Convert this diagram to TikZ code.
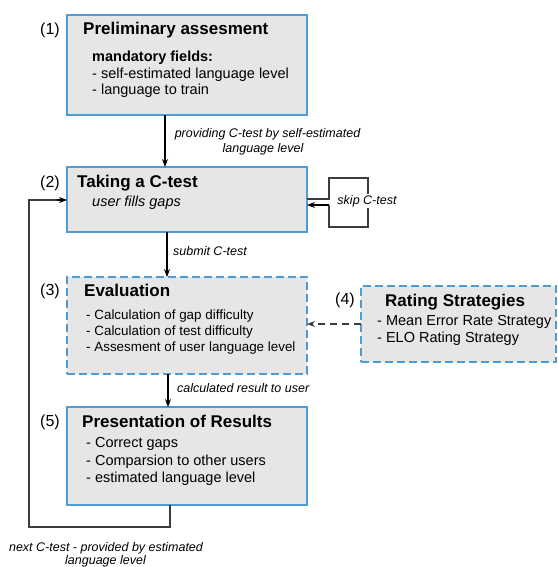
\documentclass[tikz,border=0pt]{standalone}
\usepackage{fontspec}
\setmainfont{Liberation Sans}
\usetikzlibrary{arrows.meta}
\definecolor{boxfill}{RGB}{230,230,230}
\definecolor{boxline}{RGB}{78,156,210}
\definecolor{connc}{RGB}{60,60,60}
\newcommand\mytitle{\fontsize{17}{20}\selectfont\bfseries}
\newcommand\mybody{\fontsize{14.5}{16.5}\selectfont}
\newcommand\mysmall{\fontsize{13.4}{16}\selectfont}
\newcommand\mylab{\fontsize{12.5}{14}\selectfont\itshape}
\newcommand\mynum{\fontsize{16}{18}\selectfont}
\begin{document}
\begin{tikzpicture}[x=1pt,y=-1pt,
  box/.style={draw=boxline, fill=boxfill, line width=1.2pt, outer sep=0pt, inner sep=0pt},
  dbox/.style={box, dash pattern=on 8pt off 4pt},
  txt/.style={inner sep=0pt, anchor=base west, text=black},
  ctxt/.style={inner sep=0pt, anchor=base, text=black},
  arr/.style={draw=black, line width=1.1pt, -{Stealth[length=8pt,width=6pt]}},
  ln/.style={draw=connc, line width=1.1pt}]
\useasboundingbox (0,0) rectangle (557,567);

% boxes
\node[box, minimum width=240pt, minimum height=100pt] (b1) at (187,65) {};
\node[box, minimum width=240pt, minimum height=65pt] (b2) at (187,199.5) {};
\node[dbox, minimum width=240pt, minimum height=97pt] (b3) at (187,325.5) {};
\node[dbox, minimum width=195pt, minimum height=76pt] (b4) at (458.5,324) {};
\node[box, minimum width=240pt, minimum height=98pt] (b5) at (187,456) {};

% numbers
\node[txt] (n1) at (40,34.3) {\mynum (1)};
\node[txt] (n2) at (40,187.3) {\mynum (2)};
\node[txt] (n3) at (40,295.3) {\mynum (3)};
\node[txt] (n4) at (335,304.3) {\mynum (4)};
\node[txt] (n5) at (40,426.3) {\mynum (5)};

% box 1
\node[txt] (t1) at (83,34.6) {\mytitle Preliminary assesment};
\node[txt] (t1a) at (92,61.8) {\mybody\bfseries mandatory fields:};
\node[txt] (t1b) at (92,78.8) {\mybody - self-estimated language level};
\node[txt] (t1c) at (92,94.8) {\mybody - language to train};

% box 2
\node[txt] (t2) at (77,187.6) {\mytitle Taking a C-test};
\node[txt] (t2a) at (92,206.8) {\mybody\itshape user fills gaps};

% box 3
\node[txt] (t3) at (84,296.6) {\mytitle Evaluation};
\node[txt] (t3a) at (86,319.4) {\mysmall - Calculation of gap difficulty};
\node[txt] (t3b) at (86,335.4) {\mysmall - Calculation of test difficulty};
\node[txt] (t3c) at (86,351.4) {\mysmall - Assesment of user language level};

% box 4
\node[txt] (t4) at (385,306.6) {\mytitle Rating Strategies};
\node[txt] (t4a) at (377,325.8) {\mybody - Mean Error Rate Strategy};
\node[txt] (t4b) at (377,342.8) {\mybody - ELO Rating Strategy};

% box 5
\node[txt] (t5) at (82,427.6) {\mytitle Presentation of Results};
\node[txt] (t5a) at (86,447.8) {\mybody - Correct gaps};
\node[txt] (t5b) at (86,465.8) {\mybody - Comparsion to other users};
\node[txt] (t5c) at (86,482.8) {\mybody - estimated language level};

% vertical connectors
\draw[arr] ([xshift=-22pt]b1.south) -- ([xshift=-22pt]b2.north);
\draw[arr] ([xshift=-20pt]b2.south) -- ([xshift=-20pt]b3.north);
\draw[arr] ([xshift=-19pt]b3.south) -- ([xshift=-19pt]b5.north);

\node[ctxt] (l1a) at (267.5,137) {\mylab providing C-test by self-estimated};
\node[ctxt] (l1b) at (263,152) {\mylab language level};
\node[txt] (l2) at (173,255) {\mylab submit C-test};
\node[txt] (l3) at (177,392) {\mylab calculated result to user};

% skip loop
\coordinate (sk0) at (329,199);
\coordinate (s1) at (329,178);
\coordinate (s2) at (368,178);
\coordinate (s3) at (368,227);
\coordinate (s4) at (329,227);
\coordinate (sk5) at (329,205);
\draw[ln] (b2.east |- sk0) -- (sk0) -- (s1) -- (s2) -- (s3) -- (s4) -- (sk5);
\draw[arr] (sk5) -- (b2.east |- sk5);
\node[fill=white, inner sep=1.5pt, text=black] (lsk) at (367,201) {\mylab skip C-test};

% rating -> evaluation
\draw[draw=connc, line width=1.2pt, dash pattern=on 7pt off 5pt, -{Stealth[length=8pt,width=6pt]}] (b4.west) -- (b3.east |- b4.west);

% feedback loop
\coordinate (fb1) at (170,527);
\coordinate (fb2) at (29,527);
\coordinate (fb3) at (29,200);
\draw[ln] (b5.south -| fb1) -- (fb1) -- (fb2) -- (fb3) -- ([xshift=-10pt]b2.west |- fb3);
\draw[arr] ([xshift=-10.5pt]b2.west |- fb3) -- (b2.west |- fb3);
\node[ctxt] (lfa) at (106,551) {\mylab next C-test - provided by estimated};
\node[ctxt] (lfb) at (105.5,564) {\mylab language level};
\end{tikzpicture}
\end{document}
